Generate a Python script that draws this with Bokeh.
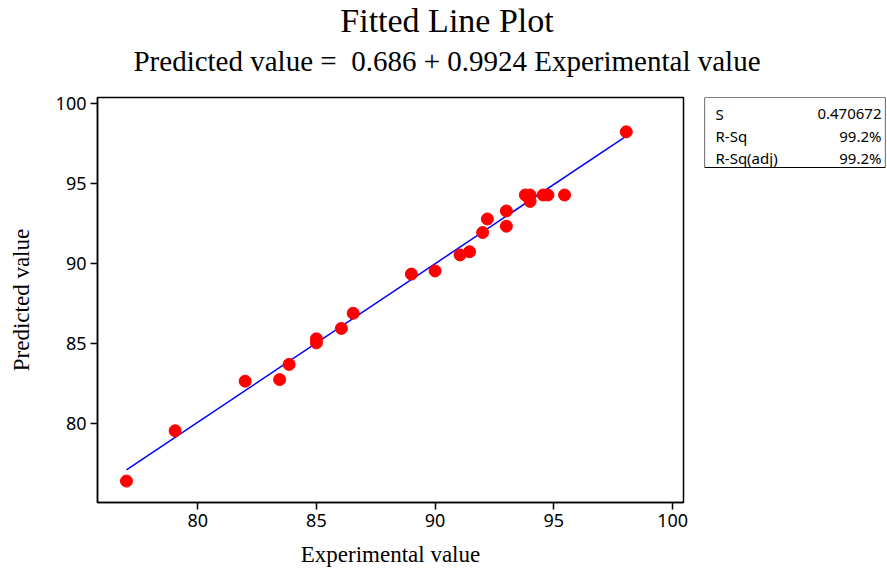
from bokeh.plotting import figure
from bokeh.models import Range1d, FixedTicker, ColumnDataSource
from bokeh.layouts import row, column
from bokeh.embed import file_html
from bokeh.resources import INLINE
from bokeh.core.properties import value

# ---- data ----
experimental = [77.0, 79.05, 82.0, 83.45, 83.85, 85.0, 85.0, 86.05, 86.55,
                89.0, 90.0, 91.05, 91.45, 92.0, 92.2, 93.0, 93.0, 93.8,
                94.0, 94.0, 94.55, 94.75, 95.45, 98.05]
predicted = [76.4, 79.55, 82.65, 82.75, 83.7, 85.3, 85.05, 85.95, 86.9,
             89.35, 89.55, 90.55, 90.75, 91.95, 92.8, 92.35, 93.3, 94.3,
             94.3, 93.9, 94.3, 94.3, 94.3, 98.25]
intercept = 0.686
slope = 0.9924
x_ticks = [80, 85, 90, 95, 100]
y_ticks = [80, 85, 90, 95, 100]
stat_names = ["S", "R-Sq", "R-Sq(adj)"]
stat_values = ["0.470672", "99.2%", "99.2%"]
title_text = "Fitted Line Plot"
subtitle_text = "Predicted value =\u00a0 0.686 + 0.9924 Experimental value"

SERIF = "Liberation Serif"
SANS = "Noto Sans"
TITLE_H = 84      # height of the title strip
TOP_PAD = 97 - TITLE_H

# ---- title strip (full window width) ----
t = figure(width=887, height=TITLE_H, output_backend="svg", toolbar_location=None,
           x_range=Range1d(0, 1), y_range=Range1d(1, 0),
           x_axis_location=None, y_axis_location=None,
           min_border_left=0, min_border_right=0, min_border_top=0,
           min_border_bottom=0)
t.title.visible = False
t.grid.visible = False
t.outline_line_color = None
t.text(x=[0.5], y=[0], text=[title_text], x_offset=3, y_offset=20,
       text_align="center", text_baseline="alphabetic",
       text_font=value(SERIF), text_font_size="34px", text_color="black")
t.text(x=[0.5], y=[0], text=[subtitle_text], x_offset=3, y_offset=60,
       text_align="center", text_baseline="alphabetic",
       text_font=value(SERIF), text_font_size="29px", text_color="black")

# ---- main plot (frame: left 97, right 683, top 97, bottom 502) ----
p = figure(width=700, height=569 - TITLE_H, output_backend="svg",
           toolbar_location=None,
           x_range=Range1d(75.78, 100.46), y_range=Range1d(75.06, 100.4),
           min_border_left=97, min_border_right=17, min_border_top=TOP_PAD,
           min_border_bottom=67)
p.title.visible = False
p.grid.visible = False
p.outline_line_color = "black"
p.outline_line_width = 1.5

for ax, ticks in ((p.xaxis, x_ticks), (p.yaxis, y_ticks)):
    ax.ticker = FixedTicker(ticks=ticks)
    ax.major_tick_out = 7
    ax.major_tick_in = 0
    ax.minor_tick_line_color = None
    ax.axis_line_color = "black"
    ax.axis_line_width = 1.5
    ax.major_tick_line_color = "black"
    ax.major_tick_line_width = 1.5
    ax.major_label_text_font = SANS
    ax.major_label_text_font_size = "18px"
    ax.major_label_text_color = "black"
    ax.axis_label_text_font = SERIF
    ax.axis_label_text_font_size = "23px"
    ax.axis_label_text_font_style = "normal"
    ax.axis_label_text_color = "black"

p.xaxis.axis_label = "Experimental value"
p.yaxis.axis_label = "Predicted value"
p.xaxis.major_label_standoff = 4
p.yaxis.major_label_standoff = 4
p.xaxis.axis_label_standoff = 12
p.yaxis.axis_label_standoff = 19

x_fit = [min(experimental), max(experimental)]
y_fit = [intercept + slope * v for v in x_fit]
p.line(x_fit, y_fit, line_color="blue", line_width=1.5)
p.scatter(experimental, predicted, size=12, fill_color="red", line_color="red")

# ---- statistics box (frame aligned with the main plot's frame) ----
rows = [0, 1, 2]
src = ColumnDataSource(dict(y=rows, name=stat_names, val=stat_values))
q = figure(width=187, height=569 - TITLE_H, output_backend="svg",
           toolbar_location=None,
           x_range=Range1d(0, 1), y_range=Range1d(17.364, -1.045),
           x_axis_location=None, y_axis_location=None,
           min_border_left=4, min_border_right=2, min_border_top=TOP_PAD,
           min_border_bottom=67)
q.title.visible = False
q.grid.visible = False
q.outline_line_color = None
q.quad(left=0, right=1, top=-1.045, bottom=2.136, fill_color=None,
       line_color="black", line_width=1.2)
q.text(x=0, y="y", text="name", source=src, x_offset=11, y_offset=-6,
       text_align="left", text_baseline="alphabetic",
       text_font=value(SANS), text_font_size="15px", text_color="black")
q.text(x=1, y="y", text="val", source=src, x_offset=-4, y_offset=-6,
       text_align="right", text_baseline="alphabetic",
       text_font=value(SANS), text_font_size="15px", text_color="black")

layout = column(t, row(p, q))
open("out.html", "w").write(file_html(layout, INLINE))
